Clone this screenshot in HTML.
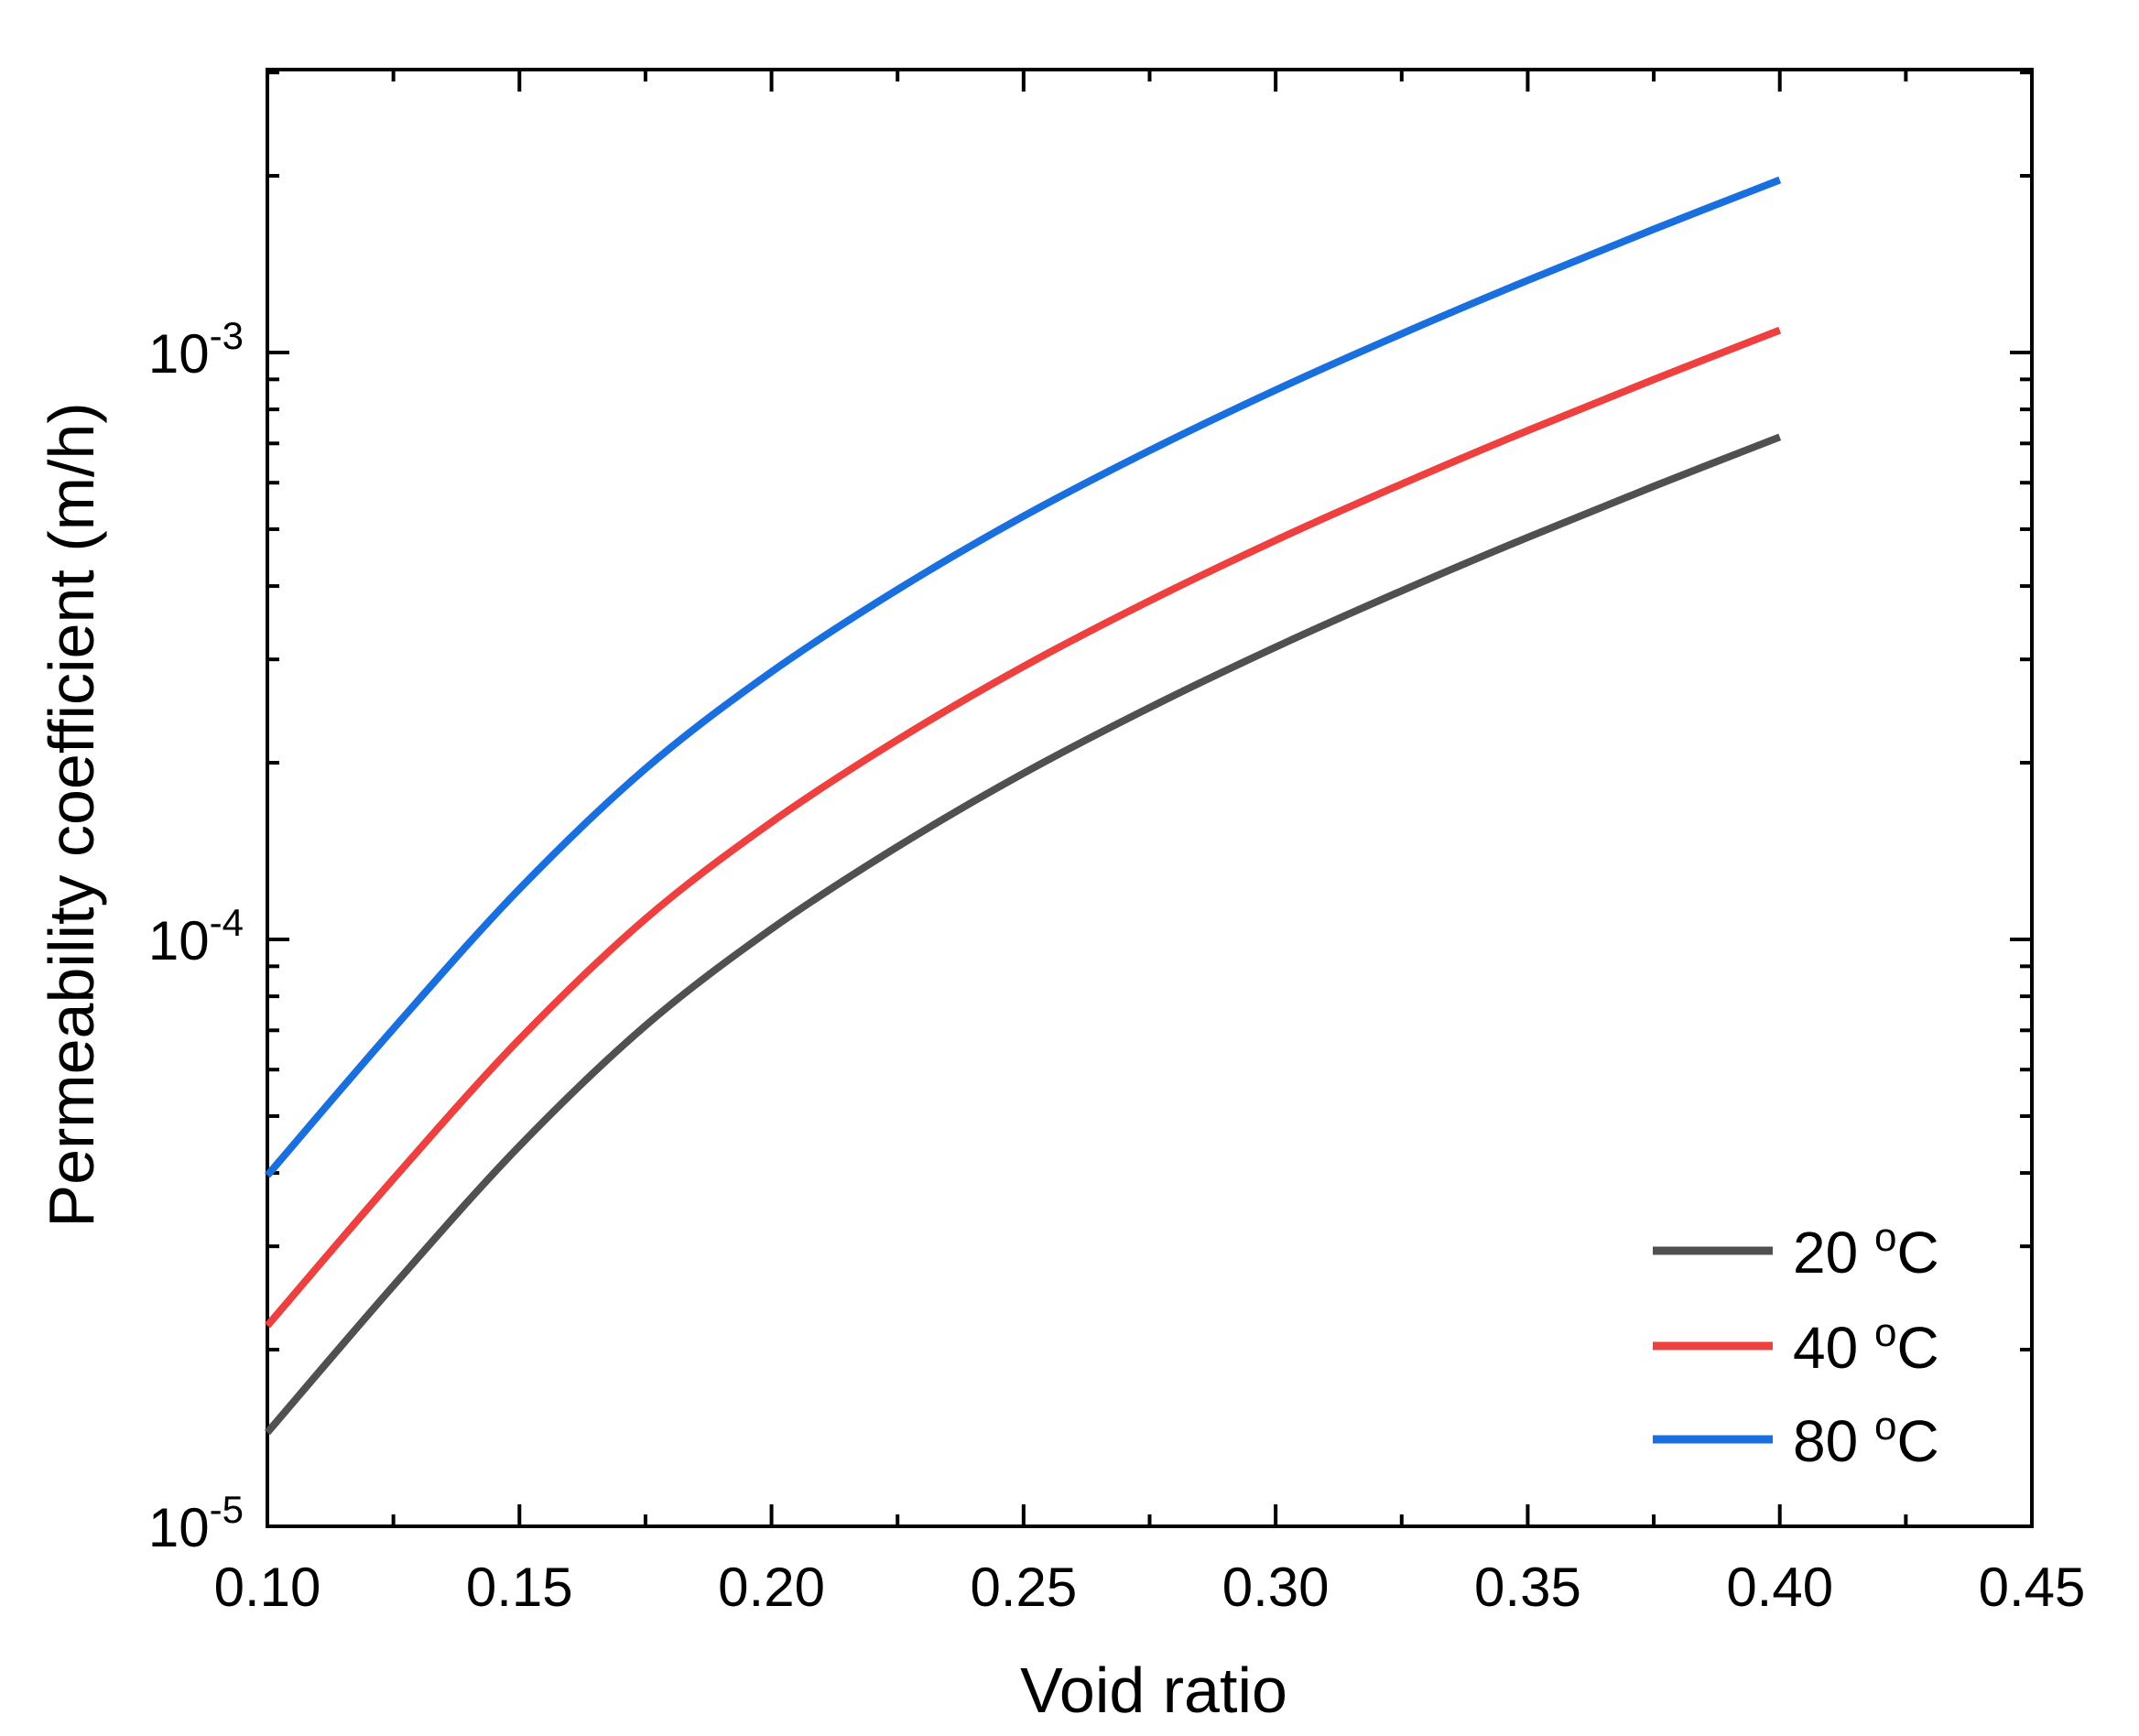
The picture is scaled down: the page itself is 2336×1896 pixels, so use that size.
<!DOCTYPE html>
<html><head><meta charset="utf-8"><style>
html,body{margin:0;padding:0;background:#fff;}
svg{display:block;font-family:"Liberation Sans",sans-serif;}
</style></head><body>
<svg id="chart" width="2336" height="1896" viewBox="0 0 2336 1896" xmlns="http://www.w3.org/2000/svg">
<g id="grid-layer"></g>
<g id="series-layer"></g>
<g id="legend"></g>
<text x="1260" y="1870" font-size="70" text-anchor="middle">Void ratio</text>
<text transform="translate(102,890) rotate(-90)" font-size="70" text-anchor="middle">Permeability coefficient (m/h)</text>
</svg>
<script>
const voidRatio = [0.100, 0.125, 0.150, 0.175, 0.200, 0.225, 0.250, 0.275, 0.300, 0.325, 0.350, 0.375, 0.400];
const k20 = [1.445e-5, 2.570e-5, 4.446e-5, 7.129e-5, 1.042e-4, 1.439e-4, 1.919e-4, 2.483e-4, 3.148e-4, 3.926e-4, 4.842e-4, 5.916e-4, 7.178e-4];
const k40 = [2.197e-5, 3.908e-5, 6.760e-5, 1.084e-4, 1.584e-4, 2.188e-4, 2.918e-4, 3.775e-4, 4.787e-4, 5.969e-4, 7.362e-4, 8.995e-4, 1.0914e-3];
const k80 = [3.962e-5, 7.046e-5, 1.219e-4, 1.954e-4, 2.857e-4, 3.945e-4, 5.261e-4, 6.807e-4, 8.631e-4, 1.0763e-3, 1.3275e-3, 1.622e-3, 1.968e-3];
const seriesNames = ["20 °C", "40 °C", "80 °C"];
const xTicks = [0.10, 0.15, 0.20, 0.25, 0.30, 0.35, 0.40, 0.45];
const xTickLabels = ["0.10", "0.15", "0.20", "0.25", "0.30", "0.35", "0.40", "0.45"];
const yTickExps = [-5, -4, -3];

const NS = "http://www.w3.org/2000/svg";
const L = 292, R = 2219, T = 76, B = 1667;
const xMin = 0.10, xMax = 0.45;
const yLogMin = -5, yLogMax = -5 + (B - T) / 641;
function xs(v){ return L + (v - xMin) / (xMax - xMin) * (R - L); }
function ys(v){ return B - (Math.log10(v) - yLogMin) / (yLogMax - yLogMin) * (B - T); }
function mk(tag, attrs, parent){ const e = document.createElementNS(NS, tag); for (const k in attrs) e.setAttribute(k, attrs[k]); parent.appendChild(e); return e; }

const ax = document.getElementById("grid-layer");
const frame = mk("rect", {x:L, y:T, width:R-L, height:B-T, fill:"none", stroke:"#000", "stroke-width":4}, ax);



for (let i = 0; i < 15; i++) {
  const v = 0.10 + i * 0.025;
  const x = xs(v);
  const len = (i % 2 === 0) ? 24 : 13;
  const t1 = mk("line", {x1:x, y1:B, x2:x, y2:B-len, stroke:"#000", "stroke-width":4}, ax);
  
  
  const t2 = mk("line", {x1:x, y1:T, x2:x, y2:T+len, stroke:"#000", "stroke-width":4}, ax);
  
  
}
xTicks.forEach((v, i) => {
  const t = mk("text", {x:xs(v), y:1754, "font-size":60, "text-anchor":"middle"}, ax);
  t.textContent = xTickLabels[i];
  
  
});
for (let e = -5; e <= -3; e++) {
  for (let m = 1; m <= 9; m++) {
    const v = m * Math.pow(10, e);
    const y = ys(v);
    if (y < T - 1) continue;
    const len = m === 1 ? 24 : 13;
    const t1 = mk("line", {x1:L, y1:y, x2:L+len, y2:y, stroke:"#000", "stroke-width":4}, ax);
    
    
    const t2 = mk("line", {x1:R, y1:y, x2:R-len, y2:y, stroke:"#000", "stroke-width":4}, ax);
    
    
  }
}
yTickExps.forEach(e => {
  const y = ys(Math.pow(10, e));
  const t = mk("text", {x:266, y:y+22, "font-size":60, "text-anchor":"end"}, ax);
  
  
  const a = document.createElementNS(NS, "tspan"); a.textContent = "10"; t.appendChild(a);
  const b = document.createElementNS(NS, "tspan"); b.setAttribute("dy", "-26"); b.setAttribute("font-size", "42"); b.textContent = String(e); t.appendChild(b);
});

const series = [k20, k40, k80];
const colors = ["#505050", "#ef4040", "#1a6fdf"];
const sl = document.getElementById("series-layer");
function pathFor(vals){
  const p = voidRatio.map((v, i) => [xs(v), ys(vals[i])]);
  let d = "M" + p[0][0] + "," + p[0][1];
  for (let i = 0; i < p.length - 1; i++) {
    const p0 = p[i-1] || p[i], p1 = p[i], p2 = p[i+1], p3 = p[i+2] || p[i+1];
    const c1 = [p1[0] + (p2[0]-p0[0])/6, p1[1] + (p2[1]-p0[1])/6];
    const c2 = [p2[0] - (p3[0]-p1[0])/6, p2[1] - (p3[1]-p1[1])/6];
    d += " C" + c1[0] + "," + c1[1] + " " + c2[0] + "," + c2[1] + " " + p2[0] + "," + p2[1];
  }
  return d;
}
series.forEach((vals, i) => {
  const p = mk("path", {d:pathFor(vals), fill:"none", stroke:colors[i], "stroke-width":8}, sl);
  
  
});

const lg = document.getElementById("legend");
const rowsY = [1366, 1470, 1572];
seriesNames.forEach((n, i) => {
  const l = mk("line", {x1:1805, y1:rowsY[i], x2:1936, y2:rowsY[i], stroke:colors[i], "stroke-width":9}, lg);
  
  
  const t = mk("text", {x:1958, y:rowsY[i]+24, "font-size":64}, lg);
  
  
  const a = document.createElementNS(NS, "tspan"); a.textContent = n.split(" ")[0] + " "; t.appendChild(a);
  const b = document.createElementNS(NS, "tspan"); b.setAttribute("dy", "-24"); b.setAttribute("font-size", "44"); b.textContent = "o"; t.appendChild(b);
  const c = document.createElementNS(NS, "tspan"); c.setAttribute("dy", "24"); c.textContent = "C"; t.appendChild(c);
});
</script>
</body></html>
